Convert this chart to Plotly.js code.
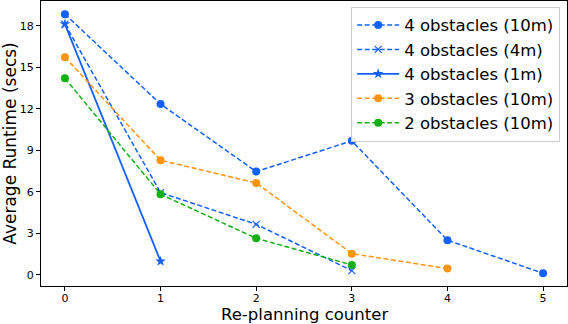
<!DOCTYPE html>
<html>
<head>
<meta charset="utf-8">
<script src="https://cdn.plot.ly/plotly-3.0.1.min.js"></script>
<style>html,body{margin:0;padding:0;background:#fff;}#chart{width:568px;height:324px;}</style>
</head>
<body>
<div id="chart"></div>
<script>
const seriesNames = ["4 obstacles (10m)", "4 obstacles (4m)", "4 obstacles (1m)", "3 obstacles (10m)", "2 obstacles (10m)"];
const x10m4 = [0, 1, 2, 3, 4, 5];
const y10m4 = [18.85, 12.35, 7.47, 9.69, 2.51, 0.12];
const x4m4 = [0, 1, 2, 3];
const y4m4 = [18.13, 5.95, 3.66, 0.31];
const x1m4 = [0, 1];
const y1m4 = [18.13, 0.99];
const x10m3 = [0, 1, 2, 3, 4];
const y10m3 = [15.74, 8.29, 6.65, 1.54, 0.46];
const x10m2 = [0, 1, 2, 3];
const y10m2 = [14.22, 5.83, 2.65, 0.72];
const yTicks = [0, 3, 6, 9, 12, 15, 18];
const xTicks = [0, 1, 2, 3, 4, 5];
const xTitle = "Re-planning counter";
const yTitle = "Average Runtime (secs)";

const blue = "#1360ff", orange = "#ff9410", green = "#13b013";
const dash = "5px,2.5px";

const traces = [
  {x: x10m4, y: y10m4, name: seriesNames[0], mode: "lines+markers",
   line: {color: blue, width: 1.5, dash: dash}, marker: {symbol: "circle", size: 8, color: blue}},
  {x: x4m4, y: y4m4, name: seriesNames[1], mode: "lines+markers",
   line: {color: blue, width: 1.5, dash: dash}, marker: {symbol: "x-thin", size: 7, color: blue, line: {color: blue, width: 1.2}}},
  {x: x1m4, y: y1m4, name: seriesNames[2], mode: "lines+markers",
   line: {color: blue, width: 1.8}, marker: {symbol: "star", size: 8, color: blue}},
  {x: x10m3, y: y10m3, name: seriesNames[3], mode: "lines+markers",
   line: {color: orange, width: 1.5, dash: dash}, marker: {symbol: "circle", size: 8, color: orange}},
  {x: x10m2, y: y10m2, name: seriesNames[4], mode: "lines+markers",
   line: {color: green, width: 1.5, dash: dash}, marker: {symbol: "circle", size: 8, color: green}}
];

const axisCommon = {
  showgrid: false, zeroline: false, showline: true, mirror: true,
  linecolor: "#000", linewidth: 1, ticks: "outside", ticklen: 4, tickcolor: "#000",
  tickfont: {family: "DejaVu Sans", size: 11, color: "#000"}
};

const layout = {
  width: 568, height: 324,
  margin: {l: 41, r: 1, t: 1, b: 38},
  paper_bgcolor: "#fff", plot_bgcolor: "#fff",
  font: {family: "DejaVu Sans", color: "#000"},
  showlegend: true,
  xaxis: Object.assign({}, axisCommon, {
    range: [-0.25, 5.25], tickvals: xTicks, ticktext: xTicks.map(String),
    ticklabelstandoff: -2
  }),
  yaxis: Object.assign({}, axisCommon, {
    range: [-0.8, 19.8], tickvals: yTicks, ticktext: yTicks.map(String),
    title: {text: yTitle, font: {family: "DejaVu Sans", size: 17, color: "#000"}, standoff: 8}
  }),
  annotations: [{
    text: xTitle, xref: "paper", yref: "paper", x: 0.5, y: 0,
    xanchor: "center", yanchor: "top", yshift: -17, showarrow: false,
    font: {family: "DejaVu Sans", size: 16.5, color: "#000"}
  }],
  legend: {
    x: 0.987, xanchor: "right", y: 0.98, yanchor: "top",
    bgcolor: "rgba(255,255,255,0.9)", bordercolor: "#cccccc", borderwidth: 1,
    font: {family: "DejaVu Sans", size: 16.5, color: "#000"},
    itemwidth: 42
  }
};

Plotly.newPlot("chart", traces, layout, {staticPlot: true, displayModeBar: false});
</script>
</body>
</html>
